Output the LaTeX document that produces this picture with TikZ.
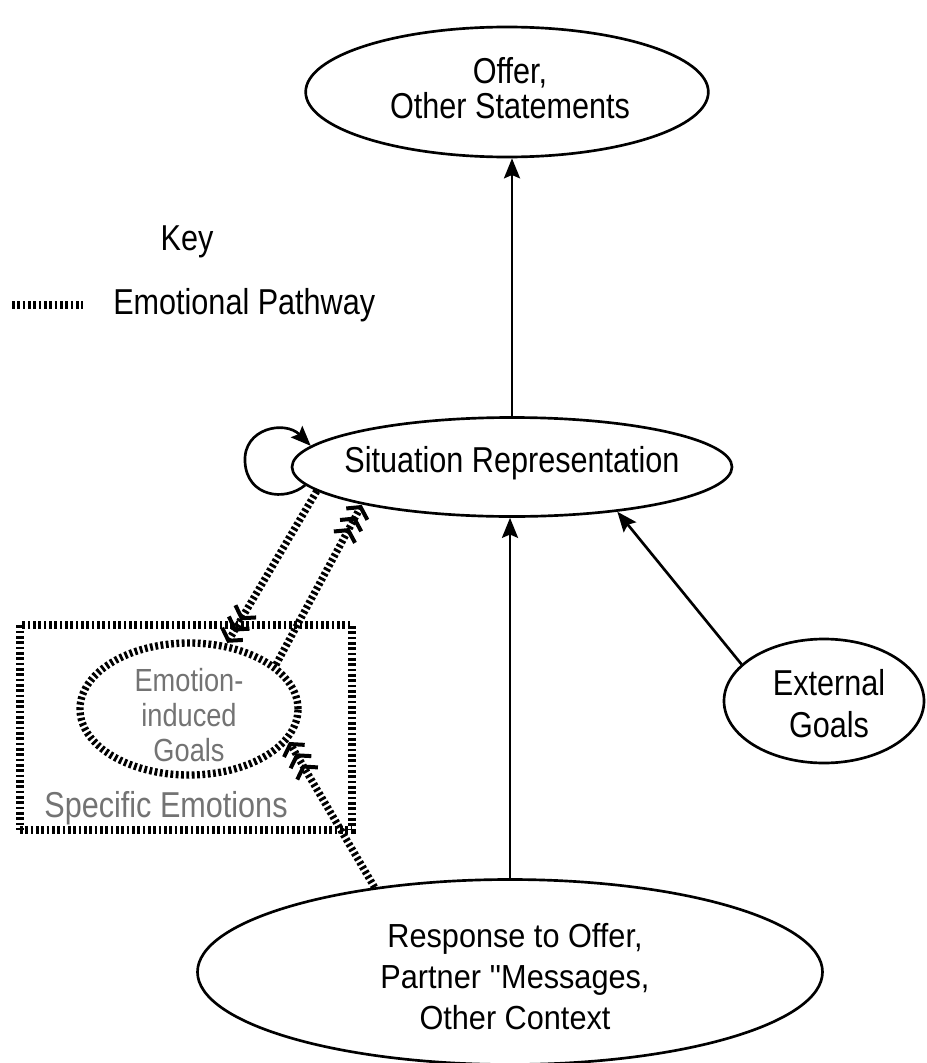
\documentclass[tikz,border=0pt]{standalone}
\usepackage{fontspec}
\setmainfont{Liberation Sans}
\newfontfamily\condfont[FakeStretch=0.85]{Liberation Sans}
\newfontfamily\respfont[FakeStretch=0.92]{Liberation Sans}
\newfontfamily\qfont[FakeStretch=0.92,Ligatures=TeXOff]{Liberation Sans}
\usetikzlibrary{shapes.geometric,arrows.meta}
\begin{document}
\begin{tikzpicture}[x=0.75pt,y=-0.75pt,
  ell/.style={draw, ellipse, line width=2pt, inner sep=0pt},
  txt/.style={align=center, inner sep=0pt, font=\condfont\fontsize{27}{27}\selectfont},
  arr/.style={line width=2pt, -{Stealth[length=15pt,width=12pt,inset=2.5pt]}},
  hatch/.style={line width=5.5pt, dash pattern=on 2.1pt off 1.9pt},
  harr/.style={hatch, -{Straight Barb[length=6pt,width=18pt,line width=3pt,sep=0.5pt]Straight Barb[length=6pt,width=18pt,line width=3pt,sep=0.5pt]Straight Barb[length=6pt,width=18pt,line width=3pt,sep=0.5pt]}},
  gtxt/.style={txt, text=black!55}]
\path[use as bounding box] (0,0) rectangle (927,1063);

% nodes
\node[ell, minimum width=302pt, minimum height=97.5pt] (offer) at (507,92) {};
\node[txt, font=\condfont\fontsize{27}{26}\selectfont] (offerT) at (510,88) {Offer,\\Other Statements};

\node[ell, minimum width=330pt, minimum height=74.25pt] (sit) at (512,467) {};
\node[txt] (sitT) at (512,463) {Situation Representation};

\node[ell, minimum width=150pt, minimum height=93pt] (ext) at (824,701) {};
\node[txt, font=\condfont\fontsize{27}{31.5}\selectfont] (extT) at (829,704) {External\\Goals};

\node[ell, minimum width=468.75pt, minimum height=138.75pt] (resp) at (510,972) {};
\node[txt, font=\respfont\fontsize{25}{30.75}\selectfont] (respT) at (515,977) {Response to Offer,\\Partner {\qfont''}Messages,\\Other Context};

\node[hatch, draw, rectangle, inner sep=0pt, minimum width=249pt, minimum height=153.75pt] (box) at (186,727.5) {};
\node[hatch, draw, ellipse, inner sep=0pt, minimum width=163.5pt, minimum height=99pt] (emo) at (189,709) {};
\node[gtxt, font=\condfont\fontsize{24}{26}\selectfont] (emoT) at (189,715) {Emotion-\\induced\\Goals};
\node[gtxt] (specT) at (166,808) {Specific Emotions};

\node[txt] (key) at (187,242) {Key};
\node[txt, anchor=west] (keyT) at (113,305) {Emotional Pathway};
\coordinate (k1) at (12,305);
\coordinate (k2) at (83,305);
\draw[hatch] (k1) -- (k2);

% solid connectors
\draw[arr] (sit.north) -- (offer.south -| sit.north);
\draw[arr] (resp.north) -- (resp.north |- sit.south);
\draw[arr] (ext.156) -- (sit.-23);
\coordinate (loopL) at (245,462);
\draw[arr] (sit.185) .. controls (285,502) and (247,497) .. (loopL)
                      .. controls (243,428) and (285,420) .. (sit.174);

% emotional pathways
\draw[harr] (sit.187) -- (emo.60);
\draw[harr] (emo.27) -- (sit.194);
\draw[harr] (resp.148.5) -- (emo.-18);
\end{tikzpicture}
\end{document}
